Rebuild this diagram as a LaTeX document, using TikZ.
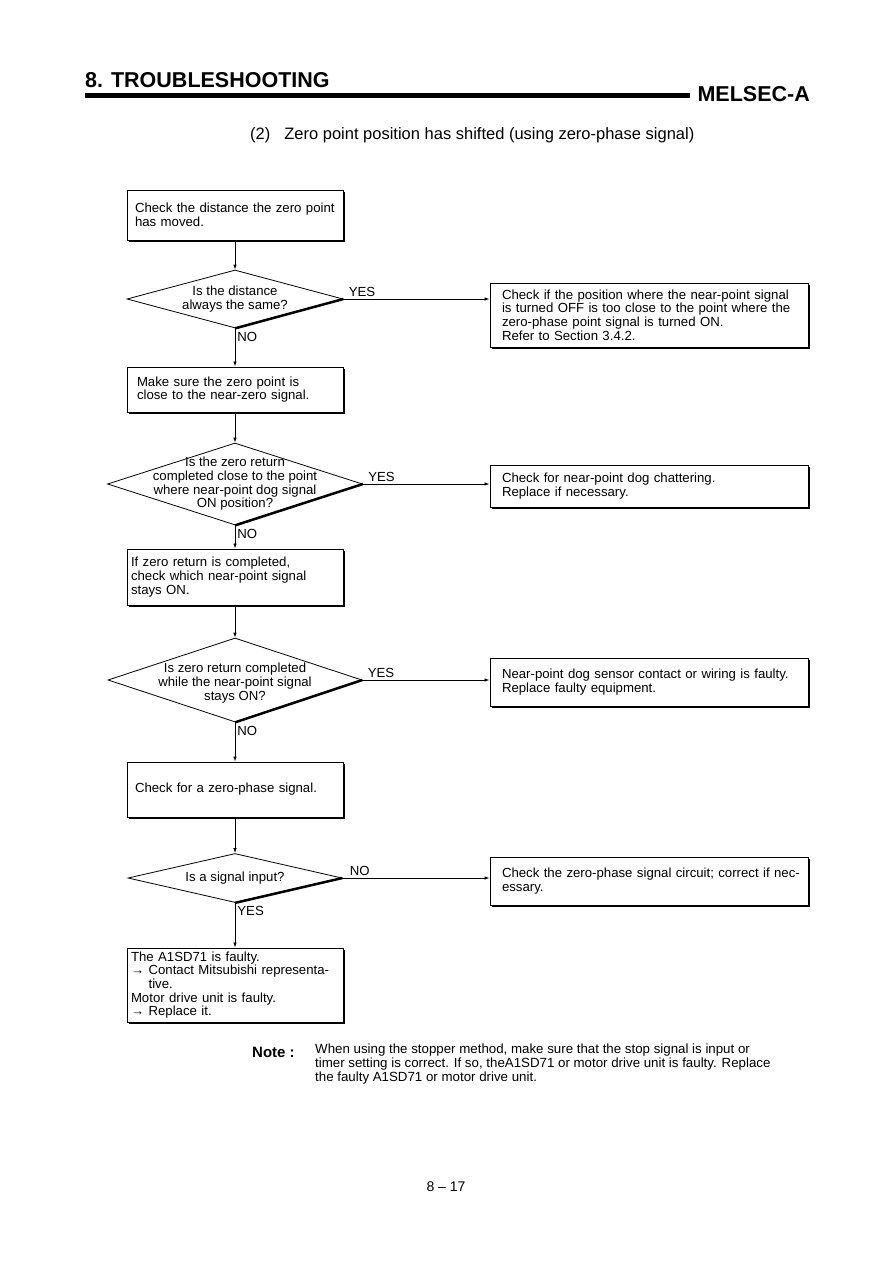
\documentclass[tikz,border=0pt]{standalone}
\usepackage{fontspec}
\setmainfont{Liberation Sans}
\usetikzlibrary{arrows.meta,positioning,shadows,shapes.geometric}

\begin{document}
\begin{tikzpicture}[x=1pt, y=-1pt,
  font=\fontsize{13.2}{13.7}\selectfont, >={Latex[length=5pt,width=3.5pt]},
  box/.style={draw, line width=1pt, fill=white, minimum width=216pt, text width=200pt, align=left,
    inner xsep=8pt, inner ysep=2pt, drop shadow={shadow xshift=2pt, shadow yshift=-2pt, fill=black, opacity=1}},
  rbox/.style={box, minimum width=318pt, text width=304pt, inner xsep=7pt},
  dia/.style={draw, diamond, line width=0.8pt, inner sep=0pt},
  dtxt/.style={align=center, inner sep=0pt},
  lbl/.style={inner sep=2pt},
  arr/.style={->, line width=0.8pt}]
  \useasboundingbox (0,0) rectangle (895,1263);
  % --- page head ---
  \node[anchor=base west, inner sep=0pt, font=\fontsize{21.5}{24}\selectfont\bfseries] (title) at (85,87) {8. TROUBLESHOOTING};
  \node[anchor=base east, inner sep=0pt, font=\fontsize{21.5}{24}\selectfont\bfseries] (maker) at (810,101) {MELSEC-A};
  \draw[line width=5pt] (85,95) -- (690,95);
  \node[anchor=base west, inner sep=0pt, font=\fontsize{16.5}{18}\selectfont] (sub) at (250,139) {(2)\hspace{14pt}Zero point position has shifted (using zero-phase signal)};
  % --- left column ---
  \node[box, minimum height=50pt] (b1) at (235,215) {Check the distance the zero point\\has moved.};
  \node[dia, minimum width=216pt, minimum height=58pt] (d1) at (235,299) {};
  \node[dtxt] at (d1) {Is the distance\\always the same?};
  \node[box, minimum height=45pt, inner xsep=10pt, text width=196pt] (b2) at (235,389.5) {Make sure the zero point is\\close to the near-zero signal.};
  \node[dia, minimum width=255pt, minimum height=82pt] (d2) at (235,484) {};
  \node[dtxt] at (d2) {Is the zero return\\completed close to the point\\where near-point dog signal\\ON position?};
  \node[box, minimum height=56pt, inner xsep=4pt, text width=208pt] (b3) at (235,577) {If zero return is completed,\\check which near-point signal\\stays ON.};
  \node[dia, minimum width=254pt, minimum height=84pt] (d3) at (235,680) {};
  \node[dtxt] at ([yshift=-3pt]d3.center) {Is zero return completed\\while the near-point signal\\stays ON?};
  \node[box, minimum height=55pt] (b4) at (235,789.5) {Check for a zero-phase signal.};
  \node[dia, minimum width=214pt, minimum height=49pt] (d4) at (235,878) {};
  \node[dtxt] at (d4) {Is a signal input?};
  \node[box, minimum height=74pt, inner xsep=4pt, text width=208pt] (b5) at (235,985) {The A1SD71 is faulty.\\
    → Contact Mitsubishi representa-\\\phantom{→ }tive.\\Motor drive unit is faulty.\\→ Replace it.};
  % thick lower right edges
  \foreach \d in {d1,d2,d3,d4}
    \draw[line width=2.5pt] (\d.south) -- (\d.east);
  % --- right column ---
  \node[rbox, minimum height=64pt] (r1) at (649,315) {\hspace{5pt}Check if the position where the near-point signal\\
    \hspace{5pt}is turned OFF is too close to the point where the\\\hspace{5pt}zero-phase point signal is turned ON.\\\hspace{5pt}Refer to Section 3.4.2.};
  \node[rbox, minimum height=42pt] (r2) at (649,486) {\hspace{5pt}Check for near-point dog chattering.\\\hspace{5pt}Replace if necessary.};
  \node[rbox, minimum height=48pt] (r3) at (649,682) {\hspace{5pt}Near-point dog sensor contact or wiring is faulty.\\\hspace{5pt}Replace faulty equipment.};
  \node[rbox, minimum height=48pt] (r4) at (649,881) {\hspace{5pt}Check the zero-phase signal circuit; correct if nec-\\\hspace{5pt}essary.};
  % --- connectors ---
  \draw[arr] (b1) -- (d1.north);
  \draw[arr] (d1.south) -- node[lbl, pos=0, anchor=north west, yshift=-1pt] {NO} (b2.north);
  \draw[arr] (d1.east) -- node[lbl, pos=0, anchor=south west, xshift=3pt] {YES} (d1.east -| r1.west);
  \draw[arr] (b2) -- (d2.north);
  \draw[arr] (d2.south) -- node[lbl, pos=0, anchor=north west, yshift=-1pt] {NO} (b3.north);
  \draw[arr] (d2.east) -- node[lbl, pos=0, anchor=south west, xshift=3pt] {YES} (d2.east -| r2.west);
  \draw[arr] (b3) -- (d3.north);
  \draw[arr] (d3.south) -- node[lbl, pos=0, anchor=north west, yshift=-1pt] {NO} (b4.north);
  \draw[arr] (d3.east) -- node[lbl, pos=0, anchor=south west, xshift=3pt] {YES} (d3.east -| r3.west);
  \draw[arr] (b4) -- (d4.north);
  \draw[arr] (d4.south) -- node[lbl, pos=0, anchor=north west, yshift=-1pt] {YES} (b5.north);
  \draw[arr] (d4.east) -- node[lbl, pos=0, anchor=south west, xshift=5pt] {NO} (d4.east -| r4.west);
  % --- note and page number ---
  \node[anchor=north west, inner sep=0pt, align=left, font=\fontsize{13.3}{14}\selectfont] (notetxt) at (315,1044)
    {When using the stopper method, make sure that the stop signal is input or\\
     timer setting is correct. If so, theA1SD71 or motor drive unit is faulty. Replace\\
     the faulty A1SD71 or motor drive unit.};
  \node[anchor=base west, inner sep=0pt, font=\fontsize{15}{17}\selectfont\bfseries] (notehd) at (252,1057) {Note :};
  \node[font=\fontsize{14}{16}\selectfont] (pg) at (446,1187) {8 -- 17};
\end{tikzpicture}
\end{document}
